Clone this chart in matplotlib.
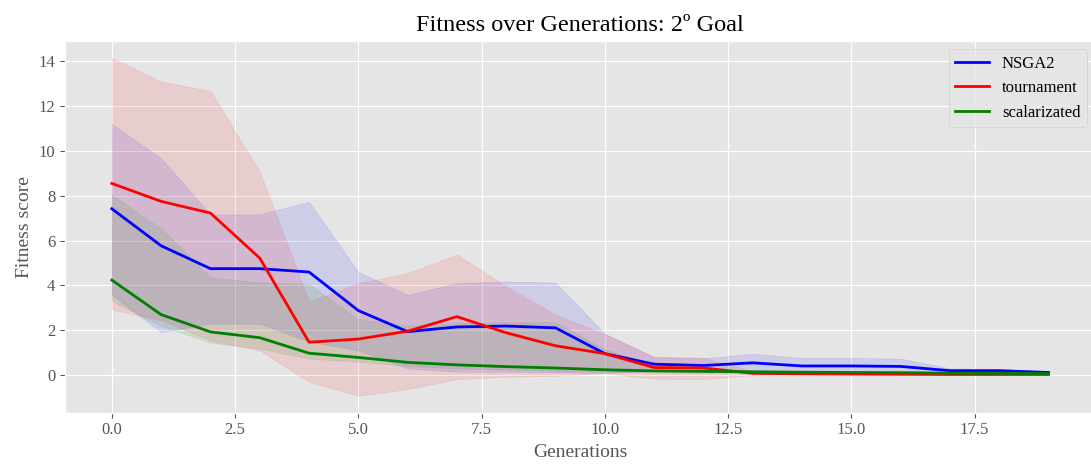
import numpy as np
import matplotlib
matplotlib.use("Agg")
import matplotlib.pyplot as plt

plt.style.use("ggplot")
plt.rcParams["font.family"] = ["Liberation Serif", "DejaVu Serif"]

generations = np.arange(20)

# mean fitness and spread per generation for each algorithm
nsga2_mean = [7.42, 5.77, 4.75, 4.75, 4.60, 2.88, 1.94, 2.15, 2.19, 2.11,
              0.96, 0.49, 0.43, 0.55, 0.41, 0.41, 0.39, 0.20, 0.20, 0.12]
nsga2_upper = [11.2, 9.67, 7.17, 7.17, 7.73, 4.60, 3.59, 4.10, 4.18, 4.13,
               1.85, 0.80, 0.75, 0.96, 0.77, 0.77, 0.74, 0.30, 0.28, 0.14]
nsga2_lower = [3.57, 1.92, 2.30, 2.29, 1.50, 1.10, 0.30, 0.15, 0.15, 0.12,
               0.10, 0.18, 0.15, 0.15, 0.12, 0.12, 0.10, 0.10, 0.10, 0.10]

tournament_mean = [8.55, 7.75, 7.23, 5.22, 1.47, 1.61, 1.96, 2.61, 1.89, 1.31,
                   0.96, 0.34, 0.32, 0.08, 0.06, 0.05, 0.04, 0.03, 0.03, 0.03]
tournament_upper = [14.15, 13.10, 12.67, 9.08, 3.28, 4.10, 4.55, 5.38, 3.96, 2.70,
                    1.82, 0.83, 0.78, 0.18, 0.08, 0.07, 0.06, 0.05, 0.05, 0.04]
tournament_lower = [2.93, 2.45, 1.55, 1.10, -0.30, -0.92, -0.62, -0.18, -0.07, -0.03,
                    0.09, -0.16, -0.17, 0.00, 0.03, 0.03, 0.02, 0.02, 0.02, 0.02]

scalar_mean = [4.24, 2.70, 1.93, 1.67, 0.98, 0.79, 0.57, 0.46, 0.38, 0.32,
               0.24, 0.19, 0.17, 0.15, 0.13, 0.12, 0.11, 0.09, 0.08, 0.07]
scalar_upper = [8.05, 6.53, 4.36, 4.14, 4.06, 2.50, 2.21, 2.33, 2.36, 2.36,
                1.15, 0.45, 0.30, 0.22, 0.18, 0.16, 0.15, 0.12, 0.10, 0.09]
scalar_lower = [3.32, 2.20, 1.45, 1.18, 0.74, 0.60, 0.41, 0.30, 0.25, 0.20,
                0.15, 0.12, 0.10, 0.10, 0.09, 0.08, 0.07, 0.06, 0.06, 0.05]

fig = plt.figure(figsize=(10.91, 4.65), dpi=100)
ax = fig.add_axes([0.0596, 0.1125, 0.9444, 0.7994])

series = [
    ("NSGA2", "blue", nsga2_mean, nsga2_lower, nsga2_upper),
    ("tournament", "red", tournament_mean, tournament_lower, tournament_upper),
    ("scalarizated", "green", scalar_mean, scalar_lower, scalar_upper),
]
for name, color, mean, lower, upper in series:
    ax.plot(generations, mean, color=color, linewidth=2, label=name)
    ax.fill_between(generations, lower, upper, color=color, alpha=0.1)

ax.set_title("Fitness over Generations: 2º Goal", fontsize=17.5, pad=7)
ax.set_xlabel("Generations", fontsize=14)
ax.set_ylabel("Fitness score", fontsize=14)
ax.tick_params(labelsize=12)
ax.legend(loc="upper right", fontsize=12)

fig.savefig("out.png", dpi=100)
